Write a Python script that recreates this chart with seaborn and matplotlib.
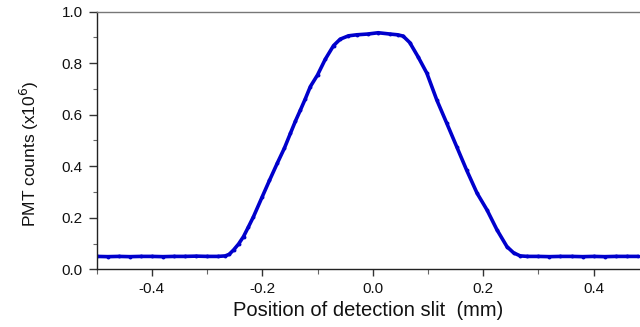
import matplotlib
matplotlib.use("Agg")
import matplotlib.pyplot as plt
import seaborn as sns
import pandas as pd
from matplotlib.ticker import MultipleLocator

# slit position (mm)
position = [-0.50, -0.48, -0.46, -0.44, -0.42, -0.40, -0.38, -0.36, -0.34, -0.32,
            -0.30, -0.28, -0.267, -0.26, -0.252, -0.243, -0.234, -0.225, -0.216, -0.200,
            -0.187, -0.173, -0.160, -0.149, -0.140, -0.131, -0.122, -0.113, -0.100, -0.086,
            -0.071, -0.059, -0.044, -0.029, -0.009, 0.010, 0.031, 0.045, 0.055, 0.067,
            0.082, 0.098, 0.116, 0.134, 0.152, 0.170, 0.189, 0.207, 0.225, 0.243,
            0.255, 0.267, 0.28, 0.30, 0.32, 0.34, 0.36, 0.38, 0.40, 0.42,
            0.44, 0.46, 0.48]
# PMT counts (x10^6)
counts = [0.050, 0.049, 0.050, 0.049, 0.050, 0.050, 0.049, 0.050, 0.050, 0.051,
          0.050, 0.050, 0.052, 0.058, 0.075, 0.098, 0.127, 0.165, 0.204, 0.282,
          0.345, 0.411, 0.470, 0.528, 0.575, 0.618, 0.662, 0.709, 0.754, 0.815,
          0.868, 0.893, 0.906, 0.910, 0.913, 0.918, 0.913, 0.910, 0.905, 0.880,
          0.825, 0.761, 0.657, 0.567, 0.476, 0.385, 0.295, 0.230, 0.153, 0.088,
          0.064, 0.052, 0.050, 0.050, 0.049, 0.050, 0.050, 0.049, 0.050, 0.049,
          0.050, 0.050, 0.050]

df = pd.DataFrame({"position": position, "counts": counts})

sns.set_style("ticks")
plt.rcParams['font.family'] = ['Liberation Sans', 'DejaVu Sans']

fig = plt.figure(figsize=(6.4, 3.27), dpi=100)
ax = fig.add_axes([0.151, 0.1765, 0.849, 0.788])

sns.lineplot(data=df, x="position", y="counts", ax=ax, color="#0000CC",
             linewidth=2.6, marker="o", markersize=2.8, markeredgewidth=0)

ax.set_xlim(-0.5, 0.484)
ax.set_ylim(0.0, 1.0)
ax.xaxis.set_major_locator(MultipleLocator(0.2))
ax.xaxis.set_minor_locator(MultipleLocator(0.1))
ax.yaxis.set_major_locator(MultipleLocator(0.2))
ax.yaxis.set_minor_locator(MultipleLocator(0.1))
ax.set_xticks([-0.4, -0.2, 0.0, 0.2, 0.4])
ax.set_xticklabels(["-0.4", "-0.2", "0.0", "0.2", "0.4"])
ax.set_yticklabels([f"{v:.1f}" for v in ax.get_yticks()])

ax.tick_params(axis="both", which="major", labelsize=11, width=1, color="#333333",
               labelcolor="#111111")
ax.tick_params(axis="y", which="major", length=6, pad=4)
ax.tick_params(axis="y", which="minor", length=3, width=0.8, color="#666666")
ax.tick_params(axis="x", which="major", length=5, pad=4)
ax.tick_params(axis="x", which="minor", length=3.5, width=0.8, color="#666666")

for s in ["left", "bottom"]:
    ax.spines[s].set_color("#222222")
    ax.spines[s].set_linewidth(1.0)
ax.spines["top"].set_visible(True)
ax.spines["top"].set_color("#777777")
ax.spines["top"].set_linewidth(1.0)
ax.spines["right"].set_visible(False)

ax.set_xlabel("Position of detection slit  (mm)", fontsize=14.5, labelpad=4, color="#111111")
ax.set_ylabel("PMT counts (x10$^6$)", fontsize=12.5, color="#111111")
ax.yaxis.set_label_coords(-0.102, 0.45)

fig.savefig("out.png", dpi=100)
